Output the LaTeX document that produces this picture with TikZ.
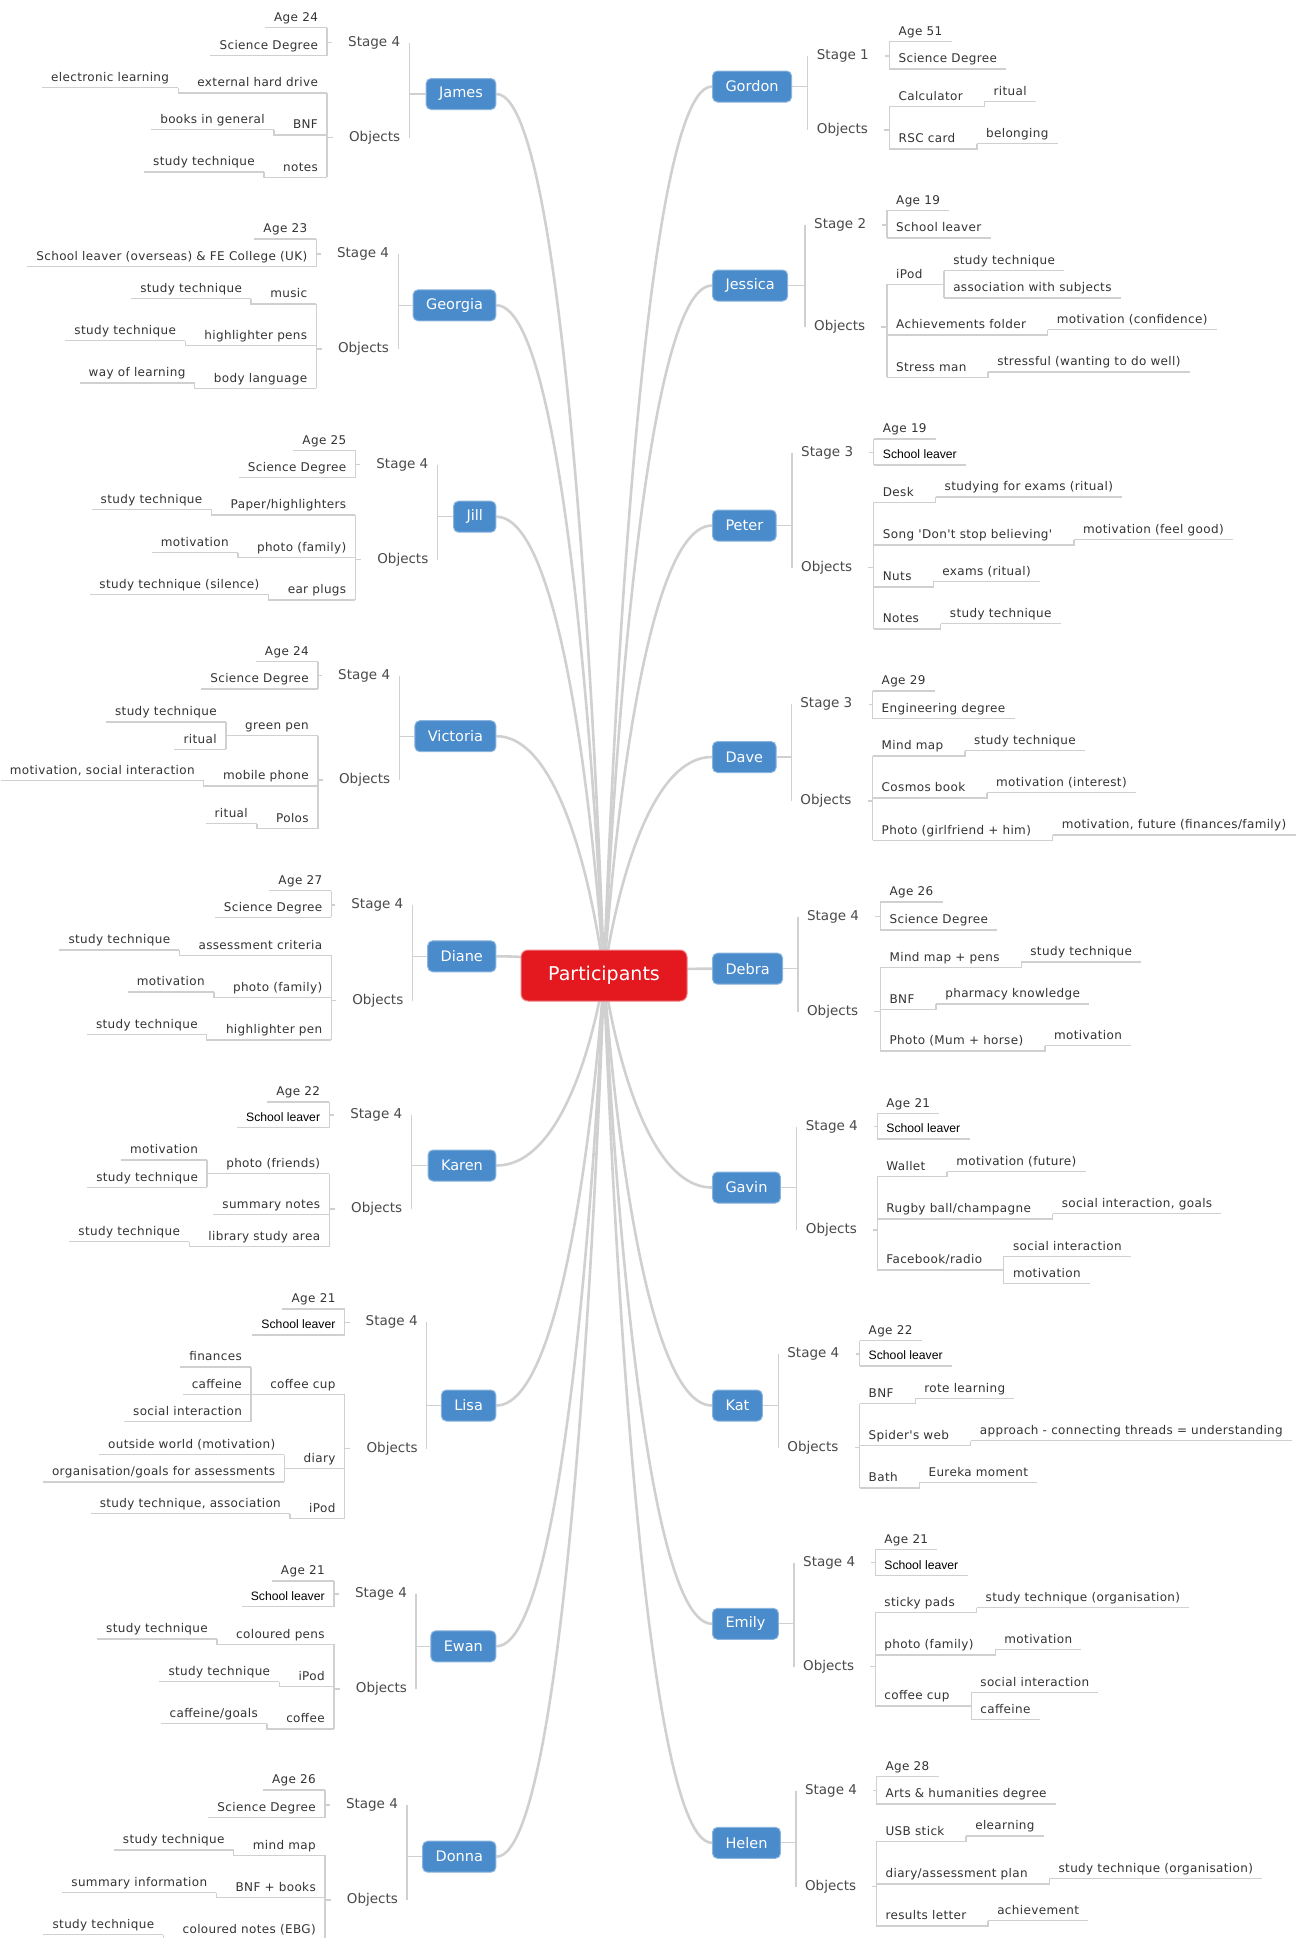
\documentclass[tikz,border=0pt]{standalone}
\usepackage{fontspec}
\setmainfont{DejaVu Sans}
\newfontfamily\itemfont{DejaVu Sans}[LetterSpace=3]
\newfontfamily\arialfont{Liberation Sans}
\usetikzlibrary{backgrounds}

\definecolor{rootred}{HTML}{E3191F}
\definecolor{personblue}{HTML}{4A8BCB}
\definecolor{linegray}{HTML}{D0D0D0}
\definecolor{itemgray}{HTML}{333333}
\definecolor{labelgray}{HTML}{4A4A4A}

\tikzset{
  link/.style={draw=linegray, line width=1.3pt},
  tick/.style={link, shorten <=7pt},
  trunk/.style={draw=linegray, line width=2.6pt},
  root/.style={fill=rootred, draw=rootred!55!white, line width=1pt, rounded corners=7pt,
    text=white, font=\fontsize{19}{22}\selectfont, minimum width=166pt, minimum height=51pt},
  rperson/.style={fill=personblue, draw=personblue!65!white, line width=1pt, rounded corners=5pt,
    text=white, font=\fontsize{14.5}{17}\selectfont, inner xsep=13pt, minimum height=31pt, anchor=west},
  lperson/.style={rperson, anchor=east},
  rlabel/.style={text=labelgray, font=\fontsize{13.5}{16}\selectfont, inner xsep=9pt,
    text height=10pt, text depth=3pt, anchor=west},
  llabel/.style={rlabel, anchor=east},
  ritem/.style={text=itemgray, font=\itemfont\fontsize{12}{14}\selectfont, inner xsep=9pt, inner ysep=3.5pt,
    text height=9.5pt, text depth=2.5pt, anchor=south west,
    append after command={(\tikzlastnode.south west) edge[link] (\tikzlastnode.south east)}},
  litem/.style={ritem, anchor=south east},
  rblack/.style={ritem, text=black, font=\arialfont\fontsize{12.2}{14}\selectfont},
  lblack/.style={rblack, anchor=south east},
}

\begin{document}
\begin{tikzpicture}[x=1pt, y=-1pt]
\useasboundingbox (0,0) rectangle (1296,1938);
\clip (0,0) rectangle (1296,1938);

\node[root] (root) at (604,975.5) {Participants};

\node[rperson] (gordon) at (712,86.5) {Gordon};
\node[rlabel] (gordonS) at (807.7,56) {Stage 1};
\node[rlabel] (gordonO) at (807.7,130) {Objects};
\node[ritem] (gordonS1) at (889.4,41.3) {Age 51};
\node[ritem] (gordonS2) at (889.4,69) {Science Degree};
\node[ritem] (gordonO1) at (889.4,106.7) {Calculator};
\node[ritem] (gordonO2) at (889.4,149) {RSC card};
\node[ritem] (gordonO1a) at ([xshift=12.5pt,yshift=5.2pt]gordonO1.south east) {ritual};
\node[ritem] (gordonO2a) at ([xshift=12.5pt,yshift=5.2pt]gordonO2.south east) {belonging};
\draw[link] (gordonS.west) |- (gordon.east) -| (gordonO.west);
\draw[tick] (gordonS.east) -- (gordonS.east -| gordonS1.south west);
\draw[link] (gordonS1.south west) -- (gordonS2.south west);
\draw[tick] (gordonO.east) -- (gordonO.east -| gordonO1.south west);
\draw[link] (gordonO1.south west) -- (gordonO2.south west);
\draw[link] (gordonO1.south east) -| (gordonO1a.south west);
\draw[link] (gordonO2.south east) -| (gordonO2a.south west);

\node[rperson] (jessica) at (712,285.5) {Jessica};
\node[rlabel] (jessicaS) at (805,225) {Stage 2};
\node[rlabel] (jessicaO) at (805,327) {Objects};
\node[ritem] (jessicaS1) at (887,210.3) {Age 19};
\node[ritem] (jessicaS2) at (887,238) {School leaver};
\node[ritem] (jessicaO1) at (887,284.3) {iPod};
\node[ritem] (jessicaO2) at (887,335) {Achievements folder};
\node[ritem] (jessicaO3) at (887,377.3) {Stress man};
\node[ritem] (jessicaO1a) at ([xshift=12.5pt,yshift=13.7pt]jessicaO1.south east) {study technique};
\node[ritem] (jessicaO1b) at ([xshift=12.5pt,yshift=-13.7pt]jessicaO1.south east) {association with subjects};
\node[ritem] (jessicaO2a) at ([xshift=12.5pt,yshift=5.2pt]jessicaO2.south east) {motivation (confidence)};
\node[ritem] (jessicaO3a) at ([xshift=12.5pt,yshift=5.2pt]jessicaO3.south east) {stressful (wanting to do well)};
\draw[link] (jessicaS.west) |- (jessica.east) -| (jessicaO.west);
\draw[tick] (jessicaS.east) -- (jessicaS.east -| jessicaS1.south west);
\draw[link] (jessicaS1.south west) -- (jessicaS2.south west);
\draw[tick] (jessicaO.east) -- (jessicaO.east -| jessicaO1.south west);
\draw[link] (jessicaO1.south west) -- (jessicaO3.south west);
\draw[link] (jessicaO1.south east) -- (jessicaO1.south east -| jessicaO1a.south west);
\draw[link] (jessicaO1a.south west) -- (jessicaO1b.south west);
\draw[link] (jessicaO2.south east) -| (jessicaO2a.south west);
\draw[link] (jessicaO3.south east) -| (jessicaO3a.south west);

\node[rperson] (peter) at (712,525.5) {Peter};
\node[rlabel] (peterS) at (792,452.7) {Stage 3};
\node[rlabel] (peterO) at (792,567.7) {Objects};
\node[ritem] (peterS1) at (873.7,439) {Age 19};
\node[rblack] (peterS2) at (873.7,465) {School leaver};
\node[ritem] (peterO1) at (873.7,502.3) {Desk};
\node[ritem] (peterO2) at (873.7,545) {Song 'Don't stop believing'};
\node[ritem] (peterO3) at (873.7,587) {Nuts};
\node[ritem] (peterO4) at (873.7,629) {Notes};
\node[ritem] (peterO1a) at ([xshift=12.5pt,yshift=5.2pt]peterO1.south east) {studying for exams (ritual)};
\node[ritem] (peterO2a) at ([xshift=12.5pt,yshift=5.2pt]peterO2.south east) {motivation (feel good)};
\node[ritem] (peterO3a) at ([xshift=12.5pt,yshift=5.2pt]peterO3.south east) {exams (ritual)};
\node[ritem] (peterO4a) at ([xshift=12.5pt,yshift=5.2pt]peterO4.south east) {study technique};
\draw[link] (peterS.west) |- (peter.east) -| (peterO.west);
\draw[tick] (peterS.east) -- (peterS.east -| peterS1.south west);
\draw[link] (peterS1.south west) -- (peterS2.south west);
\draw[tick] (peterO.east) -- (peterO.east -| peterO1.south west);
\draw[link] (peterO1.south west) -- (peterO4.south west);
\draw[link] (peterO1.south east) -| (peterO1a.south west);
\draw[link] (peterO2.south east) -| (peterO2a.south west);
\draw[link] (peterO3.south east) -| (peterO3a.south west);
\draw[link] (peterO4.south east) -| (peterO4a.south west);

\node[rperson] (dave) at (712,757) {Dave};
\node[rlabel] (daveS) at (791.2,704.3) {Stage 3};
\node[rlabel] (daveO) at (791.2,801) {Objects};
\node[ritem] (daveS1) at (872.5,691) {Age 29};
\node[ritem] (daveS2) at (872.5,718.7) {Engineering degree};
\node[ritem] (daveO1) at (872.5,756) {Mind map};
\node[ritem] (daveO2) at (872.5,798) {Cosmos book};
\node[ritem] (daveO3) at (872.5,840.3) {Photo (girlfriend + him)};
\node[ritem] (daveO1a) at ([xshift=12.5pt,yshift=5.2pt]daveO1.south east) {study technique};
\node[ritem] (daveO2a) at ([xshift=12.5pt,yshift=5.2pt]daveO2.south east) {motivation (interest)};
\node[ritem] (daveO3a) at ([xshift=12.5pt,yshift=5.2pt]daveO3.south east) {motivation, future (finances/family)};
\draw[link] (daveS.west) |- (dave.east) -| (daveO.west);
\draw[tick] (daveS.east) -- (daveS.east -| daveS1.south west);
\draw[link] (daveS1.south west) -- (daveS2.south west);
\draw[tick] (daveO.east) -- (daveO.east -| daveO1.south west);
\draw[link] (daveO1.south west) -- (daveO3.south west);
\draw[link] (daveO1.south east) -| (daveO1a.south west);
\draw[link] (daveO2.south east) -| (daveO2a.south west);
\draw[link] (daveO3.south east) -| (daveO3a.south west);

\node[rperson] (debra) at (712,968.7) {Debra};
\node[rlabel] (debraS) at (797.9,916.7) {Stage 4};
\node[rlabel] (debraO) at (797.9,1011.7) {Objects};
\node[ritem] (debraS1) at (880.4,902) {Age 26};
\node[ritem] (debraS2) at (880.4,930) {Science Degree};
\node[ritem] (debraO1) at (880.4,967.3) {Mind map + pens};
\node[ritem] (debraO2) at (880.4,1009.3) {BNF};
\node[ritem] (debraO3) at (880.4,1051) {Photo (Mum + horse)};
\node[ritem] (debraO1a) at ([xshift=12.5pt,yshift=5.2pt]debraO1.south east) {study technique};
\node[ritem] (debraO2a) at ([xshift=12.5pt,yshift=5.2pt]debraO2.south east) {pharmacy knowledge};
\node[ritem] (debraO3a) at ([xshift=12.5pt,yshift=5.2pt]debraO3.south east) {motivation};
\draw[link] (debraS.west) |- (debra.east) -| (debraO.west);
\draw[tick] (debraS.east) -- (debraS.east -| debraS1.south west);
\draw[link] (debraS1.south west) -- (debraS2.south west);
\draw[tick] (debraO.east) -- (debraO.east -| debraO1.south west);
\draw[link] (debraO1.south west) -- (debraO3.south west);
\draw[link] (debraO1.south east) -| (debraO1a.south west);
\draw[link] (debraO2.south east) -| (debraO2a.south west);
\draw[link] (debraO3.south east) -| (debraO3a.south west);

\node[rperson] (gavin) at (712,1187.5) {Gavin};
\node[rlabel] (gavinS) at (796.7,1126.7) {Stage 4};
\node[rlabel] (gavinO) at (796.7,1230) {Objects};
\node[ritem] (gavinS1) at (877.2,1113.3) {Age 21};
\node[rblack] (gavinS2) at (877.2,1139) {School leaver};
\node[ritem] (gavinO1) at (877.2,1176.7) {Wallet};
\node[ritem] (gavinO2) at (877.2,1219) {Rugby ball/champagne};
\node[ritem] (gavinO3) at (877.2,1270) {Facebook/radio};
\node[ritem] (gavinO1a) at ([xshift=12.5pt,yshift=5.2pt]gavinO1.south east) {motivation (future)};
\node[ritem] (gavinO2a) at ([xshift=12.5pt,yshift=5.2pt]gavinO2.south east) {social interaction, goals};
\node[ritem] (gavinO3a) at ([xshift=12.5pt,yshift=13.7pt]gavinO3.south east) {social interaction};
\node[ritem] (gavinO3b) at ([xshift=12.5pt,yshift=-13.7pt]gavinO3.south east) {motivation};
\draw[link] (gavinS.west) |- (gavin.east) -| (gavinO.west);
\draw[tick] (gavinS.east) -- (gavinS.east -| gavinS1.south west);
\draw[link] (gavinS1.south west) -- (gavinS2.south west);
\draw[tick] (gavinO.east) -- (gavinO.east -| gavinO1.south west);
\draw[link] (gavinO1.south west) -- (gavinO3.south west);
\draw[link] (gavinO1.south east) -| (gavinO1a.south west);
\draw[link] (gavinO2.south east) -| (gavinO2a.south west);
\draw[link] (gavinO3.south east) -- (gavinO3.south east -| gavinO3a.south west);
\draw[link] (gavinO3a.south west) -- (gavinO3b.south west);

\node[rperson] (kat) at (712,1405.5) {Kat};
\node[rlabel] (katS) at (778.2,1354) {Stage 4};
\node[rlabel] (katO) at (778.2,1447.7) {Objects};
\node[ritem] (katS1) at (859.5,1340.7) {Age 22};
\node[rblack] (katS2) at (859.5,1366) {School leaver};
\node[ritem] (katO1) at (859.5,1403.7) {BNF};
\node[ritem] (katO2) at (859.5,1445.7) {Spider's web};
\node[ritem] (katO3) at (859.5,1488) {Bath};
\node[ritem] (katO1a) at ([xshift=12.5pt,yshift=5.2pt]katO1.south east) {rote learning};
\node[ritem] (katO2a) at ([xshift=12.5pt,yshift=5.2pt]katO2.south east) {approach - connecting threads = understanding};
\node[ritem] (katO3a) at ([xshift=12.5pt,yshift=5.2pt]katO3.south east) {Eureka moment};
\draw[link] (katS.west) |- (kat.east) -| (katO.west);
\draw[tick] (katS.east) -- (katS.east -| katS1.south west);
\draw[link] (katS1.south west) -- (katS2.south west);
\draw[tick] (katO.east) -- (katO.east -| katO1.south west);
\draw[link] (katO1.south west) -- (katO3.south west);
\draw[link] (katO1.south east) -| (katO1a.south west);
\draw[link] (katO2.south east) -| (katO2a.south west);
\draw[link] (katO3.south east) -| (katO3a.south west);

\node[rperson] (emily) at (712,1623.8) {Emily};
\node[rlabel] (emilyS) at (794,1562.7) {Stage 4};
\node[rlabel] (emilyO) at (794,1666.7) {Objects};
\node[ritem] (emilyS1) at (875.2,1549.7) {Age 21};
\node[rblack] (emilyS2) at (875.2,1575.7) {School leaver};
\node[ritem] (emilyO1) at (875.2,1612.7) {sticky pads};
\node[ritem] (emilyO2) at (875.2,1655) {photo (family)};
\node[ritem] (emilyO3) at (875.2,1706) {coffee cup};
\node[ritem] (emilyO1a) at ([xshift=12.5pt,yshift=5.2pt]emilyO1.south east) {study technique (organisation)};
\node[ritem] (emilyO2a) at ([xshift=12.5pt,yshift=5.2pt]emilyO2.south east) {motivation};
\node[ritem] (emilyO3a) at ([xshift=12.5pt,yshift=13.7pt]emilyO3.south east) {social interaction};
\node[ritem] (emilyO3b) at ([xshift=12.5pt,yshift=-13.7pt]emilyO3.south east) {caffeine};
\draw[link] (emilyS.west) |- (emily.east) -| (emilyO.west);
\draw[tick] (emilyS.east) -- (emilyS.east -| emilyS1.south west);
\draw[link] (emilyS1.south west) -- (emilyS2.south west);
\draw[tick] (emilyO.east) -- (emilyO.east -| emilyO1.south west);
\draw[link] (emilyO1.south west) -- (emilyO3.south west);
\draw[link] (emilyO1.south east) -| (emilyO1a.south west);
\draw[link] (emilyO2.south east) -| (emilyO2a.south west);
\draw[link] (emilyO3.south east) -- (emilyO3.south east -| emilyO3a.south west);
\draw[link] (emilyO3a.south west) -- (emilyO3b.south west);

\node[rperson] (helen) at (712,1842.8) {Helen};
\node[rlabel] (helenS) at (795.9,1790.7) {Stage 4};
\node[rlabel] (helenO) at (795.9,1886.7) {Objects};
\node[ritem] (helenS1) at (876.4,1776.7) {Age 28};
\node[ritem] (helenS2) at (876.4,1804) {Arts \& humanities degree};
\node[ritem] (helenO1) at (876.4,1841.3) {USB stick};
\node[ritem] (helenO2) at (876.4,1884) {diary/assessment plan};
\node[ritem] (helenO3) at (876.4,1926) {results letter};
\node[ritem] (helenO1a) at ([xshift=12.5pt,yshift=5.2pt]helenO1.south east) {elearning};
\node[ritem] (helenO2a) at ([xshift=12.5pt,yshift=5.2pt]helenO2.south east) {study technique (organisation)};
\node[ritem] (helenO3a) at ([xshift=12.5pt,yshift=5.2pt]helenO3.south east) {achievement};
\draw[link] (helenS.west) |- (helen.east) -| (helenO.west);
\draw[tick] (helenS.east) -- (helenS.east -| helenS1.south west);
\draw[link] (helenS1.south west) -- (helenS2.south west);
\draw[tick] (helenO.east) -- (helenO.east -| helenO1.south west);
\draw[link] (helenO1.south west) -- (helenO3.south west);
\draw[link] (helenO1.south east) -| (helenO1a.south west);
\draw[link] (helenO2.south east) -| (helenO2a.south west);
\draw[link] (helenO3.south east) -| (helenO3a.south west);

\node[lperson] (james) at (496.4,94) {James};
\node[llabel] (jamesS) at (409.3,42.7) {Stage 4};
\node[llabel] (jamesO) at (409.3,137.7) {Objects};
\node[litem] (jamesS1) at (327.1,27.7) {Age 24};
\node[litem] (jamesS2) at (327.1,55.7) {Science Degree};
\node[litem] (jamesO1) at (327.1,93) {external hard drive};
\node[litem] (jamesO2) at (327.1,135) {BNF};
\node[litem] (jamesO3) at (327.1,177.3) {notes};
\node[litem] (jamesO1a) at ([xshift=-10pt,yshift=5.2pt]jamesO1.south west) {electronic learning};
\node[litem] (jamesO2a) at ([xshift=-10pt,yshift=5.2pt]jamesO2.south west) {books in general};
\node[litem] (jamesO3a) at ([xshift=-10pt,yshift=5.2pt]jamesO3.south west) {study technique};
\draw[link] (jamesS.east) |- (james.west) -| (jamesO.east);
\draw[tick] (jamesS.west) -- (jamesS.west -| jamesS1.south east);
\draw[link] (jamesS1.south east) -- (jamesS2.south east);
\draw[tick] (jamesO.west) -- (jamesO.west -| jamesO1.south east);
\draw[link] (jamesO1.south east) -- (jamesO3.south east);
\draw[link] (jamesO1.south west) -| (jamesO1a.south east);
\draw[link] (jamesO2.south west) -| (jamesO2a.south east);
\draw[link] (jamesO3.south west) -| (jamesO3a.south east);

\node[lperson] (georgia) at (496.4,305.3) {Georgia};
\node[llabel] (georgiaS) at (398.2,254) {Stage 4};
\node[llabel] (georgiaO) at (398.2,349) {Objects};
\node[litem] (georgiaS1) at (316.4,239) {Age 23};
\node[litem] (georgiaS2) at (316.4,266.7) {School leaver (overseas) \& FE College (UK)};
\node[litem] (georgiaO1) at (316.4,304) {music};
\node[litem] (georgiaO2) at (316.4,345.7) {highlighter pens};
\node[litem] (georgiaO3) at (316.4,388.3) {body language};
\node[litem] (georgiaO1a) at ([xshift=-10pt,yshift=5.2pt]georgiaO1.south west) {study technique};
\node[litem] (georgiaO2a) at ([xshift=-10pt,yshift=5.2pt]georgiaO2.south west) {study technique};
\node[litem] (georgiaO3a) at ([xshift=-10pt,yshift=5.2pt]georgiaO3.south west) {way of learning};
\draw[link] (georgiaS.east) |- (georgia.west) -| (georgiaO.east);
\draw[tick] (georgiaS.west) -- (georgiaS.west -| georgiaS1.south east);
\draw[link] (georgiaS1.south east) -- (georgiaS2.south east);
\draw[tick] (georgiaO.west) -- (georgiaO.west -| georgiaO1.south east);
\draw[link] (georgiaO1.south east) -- (georgiaO3.south east);
\draw[link] (georgiaO1.south west) -| (georgiaO1a.south east);
\draw[link] (georgiaO2.south west) -| (georgiaO2a.south east);
\draw[link] (georgiaO3.south west) -| (georgiaO3a.south east);

\node[lperson] (jill) at (496.4,516.7) {Jill};
\node[llabel] (jillS) at (437.5,464.7) {Stage 4};
\node[llabel] (jillO) at (437.5,559.7) {Objects};
\node[litem] (jillS1) at (355.4,450.3) {Age 25};
\node[litem] (jillS2) at (355.4,477.7) {Science Degree};
\node[litem] (jillO1) at (355.4,515) {Paper/highlighters};
\node[litem] (jillO2) at (355.4,557.7) {photo (family)};
\node[litem] (jillO3) at (355.4,600) {ear plugs};
\node[litem] (jillO1a) at ([xshift=-10pt,yshift=5.2pt]jillO1.south west) {study technique};
\node[litem] (jillO2a) at ([xshift=-10pt,yshift=5.2pt]jillO2.south west) {motivation};
\node[litem] (jillO3a) at ([xshift=-10pt,yshift=5.2pt]jillO3.south west) {study technique (silence)};
\draw[link] (jillS.east) |- (jill.west) -| (jillO.east);
\draw[tick] (jillS.west) -- (jillS.west -| jillS1.south east);
\draw[link] (jillS1.south east) -- (jillS2.south east);
\draw[tick] (jillO.west) -- (jillO.west -| jillO1.south east);
\draw[link] (jillO1.south east) -- (jillO3.south east);
\draw[link] (jillO1.south west) -| (jillO1a.south east);
\draw[link] (jillO2.south west) -| (jillO2a.south east);
\draw[link] (jillO3.south west) -| (jillO3a.south east);

\node[lperson] (victoria) at (496.4,736.2) {Victoria};
\node[llabel] (victoriaS) at (399.3,675.7) {Stage 4};
\node[llabel] (victoriaO) at (399.3,780) {Objects};
\node[litem] (victoriaS1) at (317.9,661.7) {Age 24};
\node[litem] (victoriaS2) at (317.9,689) {Science Degree};
\node[litem] (victoriaO1) at (317.9,735.7) {green pen};
\node[litem] (victoriaO2) at (317.9,786) {mobile phone};
\node[litem] (victoriaO3) at (317.9,828.7) {Polos};
\node[litem] (victoriaO1a) at ([xshift=-10pt,yshift=13.7pt]victoriaO1.south west) {study technique};
\node[litem] (victoriaO1b) at ([xshift=-10pt,yshift=-13.7pt]victoriaO1.south west) {ritual};
\node[litem] (victoriaO2a) at ([xshift=-10pt,yshift=5.2pt]victoriaO2.south west) {motivation, social interaction};
\node[litem] (victoriaO3a) at ([xshift=-10pt,yshift=5.2pt]victoriaO3.south west) {ritual};
\draw[link] (victoriaS.east) |- (victoria.west) -| (victoriaO.east);
\draw[tick] (victoriaS.west) -- (victoriaS.west -| victoriaS1.south east);
\draw[link] (victoriaS1.south east) -- (victoriaS2.south east);
\draw[tick] (victoriaO.west) -- (victoriaO.west -| victoriaO1.south east);
\draw[link] (victoriaO1.south east) -- (victoriaO3.south east);
\draw[link] (victoriaO1.south west) -- (victoriaO1.south west -| victoriaO1a.south east);
\draw[link] (victoriaO1a.south east) -- (victoriaO1b.south east);
\draw[link] (victoriaO2.south west) -| (victoriaO2a.south east);
\draw[link] (victoriaO3.south west) -| (victoriaO3a.south east);

\node[lperson] (diane) at (496.4,956.3) {Diane};
\node[llabel] (dianeS) at (412.5,905) {Stage 4};
\node[llabel] (dianeO) at (412.5,1000.7) {Objects};
\node[litem] (dianeS1) at (331.4,890.7) {Age 27};
\node[litem] (dianeS2) at (331.4,917.3) {Science Degree};
\node[litem] (dianeO1) at (331.4,955.3) {assessment criteria};
\node[litem] (dianeO2) at (331.4,997.3) {photo (family)};
\node[litem] (dianeO3) at (331.4,1040) {highlighter pen};
\node[litem] (dianeO1a) at ([xshift=-10pt,yshift=5.2pt]dianeO1.south west) {study technique};
\node[litem] (dianeO2a) at ([xshift=-10pt,yshift=5.2pt]dianeO2.south west) {motivation};
\node[litem] (dianeO3a) at ([xshift=-10pt,yshift=5.2pt]dianeO3.south west) {study technique};
\draw[link] (dianeS.east) |- (diane.west) -| (dianeO.east);
\draw[tick] (dianeS.west) -- (dianeS.west -| dianeS1.south east);
\draw[link] (dianeS1.south east) -- (dianeS2.south east);
\draw[tick] (dianeO.west) -- (dianeO.west -| dianeO1.south east);
\draw[link] (dianeO1.south east) -- (dianeO3.south east);
\draw[link] (dianeO1.south west) -| (dianeO1a.south east);
\draw[link] (dianeO2.south west) -| (dianeO2a.south east);
\draw[link] (dianeO3.south west) -| (dianeO3a.south east);

\node[lperson] (karen) at (496.4,1165.5) {Karen};
\node[llabel] (karenS) at (411.4,1115) {Stage 4};
\node[llabel] (karenO) at (411.4,1209) {Objects};
\node[litem] (karenS1) at (329.3,1102) {Age 22};
\node[lblack] (karenS2) at (329.3,1127.7) {School leaver};
\node[litem] (karenO1) at (329.3,1173.7) {photo (friends)};
\node[litem] (karenO2) at (329.3,1214.7) {summary notes};
\node[litem] (karenO3) at (329.3,1246.7) {library study area};
\node[litem] (karenO1a) at ([xshift=-10pt,yshift=13.7pt]karenO1.south west) {motivation};
\node[litem] (karenO1b) at ([xshift=-10pt,yshift=-13.7pt]karenO1.south west) {study technique};
\node[litem] (karenO3a) at ([xshift=-10pt,yshift=5.2pt]karenO3.south west) {study technique};
\draw[link] (karenS.east) |- (karen.west) -| (karenO.east);
\draw[tick] (karenS.west) -- (karenS.west -| karenS1.south east);
\draw[link] (karenS1.south east) -- (karenS2.south east);
\draw[tick] (karenO.west) -- (karenO.west -| karenO1.south east);
\draw[link] (karenO1.south east) -- (karenO3.south east);
\draw[link] (karenO1.south west) -- (karenO1.south west -| karenO1a.south east);
\draw[link] (karenO1a.south east) -- (karenO1b.south east);
\draw[link] (karenO3.south west) -| (karenO3a.south east);

\node[lperson] (lisa) at (496.4,1405.5) {Lisa};
\node[llabel] (lisaS) at (426.8,1322.3) {Stage 4};
\node[llabel] (lisaO) at (426.8,1448.7) {Objects};
\node[litem] (lisaS1) at (344.6,1309) {Age 21};
\node[lblack] (lisaS2) at (344.6,1335) {School leaver};
\node[litem] (lisaO1) at (344.6,1394.3) {coffee cup};
\node[litem] (lisaO2) at (344.6,1468.3) {diary};
\node[litem] (lisaO3) at (344.6,1518.7) {iPod};
\node[litem] (lisaO1a) at ([xshift=-10pt,yshift=27.2pt]lisaO1.south west) {finances};
\node[litem] (lisaO1b) at ([xshift=-10pt]lisaO1.south west) {caffeine};
\node[litem] (lisaO1c) at ([xshift=-10pt,yshift=-27.2pt]lisaO1.south west) {social interaction};
\node[litem] (lisaO2a) at ([xshift=-10pt,yshift=13.7pt]lisaO2.south west) {outside world (motivation)};
\node[litem] (lisaO2b) at ([xshift=-10pt,yshift=-13.7pt]lisaO2.south west) {organisation/goals for assessments};
\node[litem] (lisaO3a) at ([xshift=-10pt,yshift=5.2pt]lisaO3.south west) {study technique, association};
\draw[link] (lisaS.east) |- (lisa.west) -| (lisaO.east);
\draw[tick] (lisaS.west) -- (lisaS.west -| lisaS1.south east);
\draw[link] (lisaS1.south east) -- (lisaS2.south east);
\draw[tick] (lisaO.west) -- (lisaO.west -| lisaO1.south east);
\draw[link] (lisaO1.south east) -- (lisaO3.south east);
\draw[link] (lisaO1.south west) -- (lisaO1b.south east);
\draw[link] (lisaO1a.south east) -- (lisaO1c.south east);
\draw[link] (lisaO2.south west) -- (lisaO2.south west -| lisaO2a.south east);
\draw[link] (lisaO2a.south east) -- (lisaO2b.south east);
\draw[link] (lisaO3.south west) -| (lisaO3a.south east);

\node[lperson] (ewan) at (496.4,1646.3) {Ewan};
\node[llabel] (ewanS) at (416.1,1594) {Stage 4};
\node[llabel] (ewanO) at (416.1,1689) {Objects};
\node[litem] (ewanS1) at (333.9,1581) {Age 21};
\node[lblack] (ewanS2) at (333.9,1606.7) {School leaver};
\node[litem] (ewanO1) at (333.9,1644.3) {coloured pens};
\node[litem] (ewanO2) at (333.9,1686.7) {iPod};
\node[litem] (ewanO3) at (333.9,1729) {coffee};
\node[litem] (ewanO1a) at ([xshift=-10pt,yshift=5.2pt]ewanO1.south west) {study technique};
\node[litem] (ewanO2a) at ([xshift=-10pt,yshift=5.2pt]ewanO2.south west) {study technique};
\node[litem] (ewanO3a) at ([xshift=-10pt,yshift=5.2pt]ewanO3.south west) {caffeine/goals};
\draw[link] (ewanS.east) |- (ewan.west) -| (ewanO.east);
\draw[tick] (ewanS.west) -- (ewanS.west -| ewanS1.south east);
\draw[link] (ewanS1.south east) -- (ewanS2.south east);
\draw[tick] (ewanO.west) -- (ewanO.west -| ewanO1.south east);
\draw[link] (ewanO1.south east) -- (ewanO3.south east);
\draw[link] (ewanO1.south west) -| (ewanO1a.south east);
\draw[link] (ewanO2.south west) -| (ewanO2a.south east);
\draw[link] (ewanO3.south west) -| (ewanO3a.south east);

\node[lperson] (donna) at (496.4,1856.7) {Donna};
\node[llabel] (donnaS) at (407.1,1805) {Stage 4};
\node[llabel] (donnaO) at (407.1,1900) {Objects};
\node[litem] (donnaS1) at (325,1790) {Age 26};
\node[litem] (donnaS2) at (325,1817.7) {Science Degree};
\node[litem] (donnaO1) at (325,1855.3) {mind map};
\node[litem] (donnaO2) at (325,1897.7) {BNF + books};
\node[litem] (donnaO3) at (325,1940) {coloured notes (EBG)};
\node[litem] (donnaO1a) at ([xshift=-10pt,yshift=5.2pt]donnaO1.south west) {study technique};
\node[litem] (donnaO2a) at ([xshift=-10pt,yshift=5.2pt]donnaO2.south west) {summary information};
\node[litem] (donnaO3a) at ([xshift=-10pt,yshift=5.2pt]donnaO3.south west) {study technique};
\draw[link] (donnaS.east) |- (donna.west) -| (donnaO.east);
\draw[tick] (donnaS.west) -- (donnaS.west -| donnaS1.south east);
\draw[link] (donnaS1.south east) -- (donnaS2.south east);
\draw[tick] (donnaO.west) -- (donnaO.west -| donnaO1.south east);
\draw[link] (donnaO1.south east) -- (donnaO3.south east);
\draw[link] (donnaO1.south west) -| (donnaO1a.south east);
\draw[link] (donnaO2.south west) -| (donnaO2a.south east);
\draw[link] (donnaO3.south west) -| (donnaO3a.south east);

\begin{pgfonlayer}{background}
\fill[white] (0,0) rectangle (1296,1938);
\draw[trunk] (root.center) .. controls (root.center) and +(-80,0) .. (gordon.west);
\draw[trunk] (root.center) .. controls (root.center) and +(-80,0) .. (jessica.west);
\draw[trunk] (root.center) .. controls (root.center) and +(-80,0) .. (peter.west);
\draw[trunk] (root.center) .. controls (root.center) and +(-80,0) .. (dave.west);
\draw[trunk] (root.center) .. controls (root.center) and +(-80,0) .. (debra.west);
\draw[trunk] (root.center) .. controls (root.center) and +(-80,0) .. (gavin.west);
\draw[trunk] (root.center) .. controls (root.center) and +(-80,0) .. (kat.west);
\draw[trunk] (root.center) .. controls (root.center) and +(-80,0) .. (emily.west);
\draw[trunk] (root.center) .. controls (root.center) and +(-80,0) .. (helen.west);
\draw[trunk] (root.center) .. controls (root.center) and +(80,0) .. (james.east);
\draw[trunk] (root.center) .. controls (root.center) and +(80,0) .. (georgia.east);
\draw[trunk] (root.center) .. controls (root.center) and +(80,0) .. (jill.east);
\draw[trunk] (root.center) .. controls (root.center) and +(80,0) .. (victoria.east);
\draw[trunk] (root.center) .. controls (root.center) and +(80,0) .. (diane.east);
\draw[trunk] (root.center) .. controls (root.center) and +(80,0) .. (karen.east);
\draw[trunk] (root.center) .. controls (root.center) and +(80,0) .. (lisa.east);
\draw[trunk] (root.center) .. controls (root.center) and +(80,0) .. (ewan.east);
\draw[trunk] (root.center) .. controls (root.center) and +(80,0) .. (donna.east);
\end{pgfonlayer}
\end{tikzpicture}
\end{document}
